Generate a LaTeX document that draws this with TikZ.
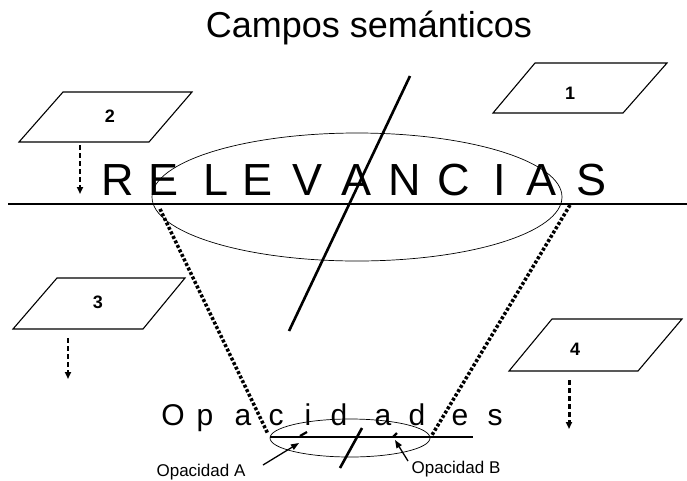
\documentclass[tikz,border=0pt]{standalone}
\usepackage{fontspec}
\setmainfont{Liberation Sans}
\usetikzlibrary{arrows.meta}
\tikzset{
  para/.style={draw=black, line width=1.1pt, line join=miter},
  num/.style={font=\fontsize{18}{18}\selectfont\bfseries, inner sep=0pt},
  bigl/.style={font=\fontsize{45}{45}\selectfont, inner sep=0pt, anchor=base},
  midl/.style={font=\fontsize{30}{30}\selectfont, inner sep=0pt, anchor=base},
  lbl/.style={font=\fontsize{17}{17}\selectfont, inner sep=0pt, anchor=base},
  dasharrow/.style={line width=2pt, dash pattern=on 5pt off 3pt, -{Triangle[length=7pt,width=6pt]}},
  dotline/.style={line width=3.5pt, dash pattern=on 3pt off 2pt},
  thickline/.style={line width=2.6pt},
  thinline/.style={line width=0.7pt},
  thinarrow/.style={line width=1.3pt, -{Triangle[length=8pt,width=6pt]}},
}
\begin{document}
\begin{tikzpicture}[x=1pt,y=-1pt]
\path[use as bounding box] (0,0) rectangle (687,480);

% title
\node[font=\fontsize{36}{36}\selectfont, inner sep=0pt, anchor=base] (title) at (369,37) {Campos semánticos};

% parallelograms
\draw[para] (535,63) -- (667,63) -- (623,113) -- (493,113) -- cycle;
\node[num] (n1) at (570,93) {1};
\draw[para] (63,92) -- (192,92) -- (149,142) -- (19,142) -- cycle;
\node[num] (n2) at (110,116) {2};
\draw[para] (57,278) -- (185,278) -- (143,329) -- (13,329) -- cycle;
\node[num] (n3) at (98,302) {3};
\draw[para] (552,319) -- (682,319) -- (638,371) -- (509,371) -- cycle;
\node[num] (n4) at (575,349) {4};

% dashed arrows
\coordinate (a2s) at (80,145); \coordinate (a2e) at (80,194);
\coordinate (a3s) at (68,338); \coordinate (a3e) at (68,379);
\coordinate (a4s) at (569,380); \coordinate (a4e) at (569,429);
\draw[dasharrow] (a2s) -- (a2e);
\draw[dasharrow] (a3s) -- (a3e);
\draw[dasharrow, line width=3pt] (a4s) -- (a4e);

% main horizontal line
\coordinate (hl) at (8,204); \coordinate (hr) at (687,204);
\draw[thickline] (hl) -- (hr);

% RELEVANCIAS
\foreach \l/\x in {R/118,E/164,L/216,E/258,V/308,A/357,N/405,C/454,I/500,A/541,S/591}
  \node[bigl] at (\x,195) {\l};

% big ellipse
\draw[thinline] (357,197) ellipse [x radius=205pt, y radius=64pt];

% long diagonal
\coordinate (d1) at (410,76); \coordinate (d2) at (289,331);
\draw[thickline] (d1) -- (d2);

% dotted cone sides
\coordinate (l1) at (160,209); \coordinate (l2) at (268,434);
\coordinate (r1) at (570,205); \coordinate (r2) at (432,435);
\draw[dotline] (l1) -- (l2);
\draw[dotline] (r1) -- (r2);

% Opacidades
\foreach \l/\x in {O/173,p/205,a/243,c/276,i/308,d/339,a/383,d/417,e/460,s/495}
  \node[midl] at (\x,425) {\l};

% small ellipse and line
\draw[thinline] (350,438) ellipse [x radius=80pt, y radius=19pt];
\coordinate (bl) at (270,437); \coordinate (br) at (473,437);
\draw[thickline] (bl) -- (br);
\coordinate (s1) at (362,428); \coordinate (s2) at (340,468);
\draw[thickline] (s1) -- (s2);
\draw[line width=2.2pt] (307,432) -- (300,436);
\draw[line width=2.2pt] (397,433) -- (393,437);

% labels
\node[lbl] (oa) at (201,476) {Opacidad A};
\node[lbl] (ob) at (456,473) {Opacidad B};
\coordinate (ta) at (263,465); \coordinate (ha) at (299,443);
\coordinate (tb) at (408,461); \coordinate (hb) at (395,440);
\draw[thinarrow] (ta) -- (ha);
\draw[thinarrow] (tb) -- (hb);
\end{tikzpicture}
\end{document}
